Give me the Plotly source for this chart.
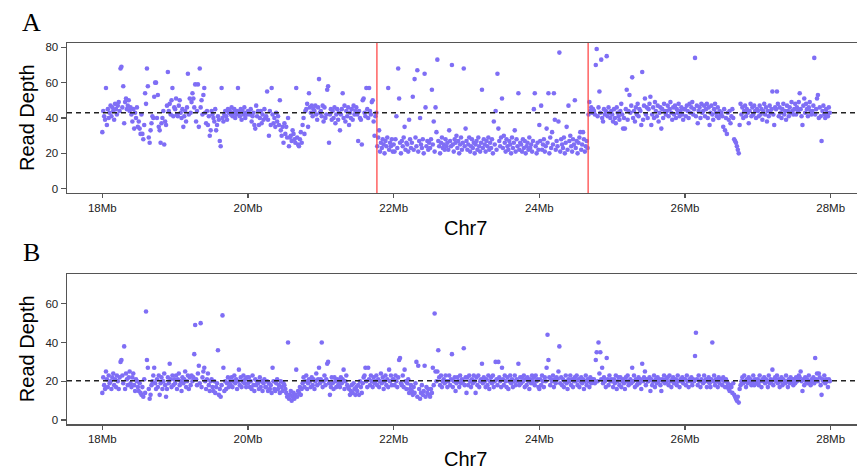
import plotly.graph_objects as go

# ---- data -------------------------------------------------------------
BIN_MB = 0.0125                      # genomic window size (Mb)
tick_vals = [18, 20, 22, 24, 26, 28]
tick_text = ["18Mb", "20Mb", "22Mb", "24Mb", "26Mb", "28Mb"]
mean_depth_a = 43.0
mean_depth_b = 20.3
breakpoints_a = [21.77, 24.67]

# Panel A read depth per 1-Mb block (80 windows each)
a_18 = [32, 44, 41, 39, 57, 36, 45, 40, 43, 47, 41, 46, 44, 39, 48, 45, 42, 47, 49, 44,
        68, 69, 46, 58, 37, 49, 51, 45, 47, 50, 44, 46, 42, 38, 45, 34, 43, 40, 46, 35,
        38, 34, 31, 42, 31, 28, 36, 54, 48, 68, 58, 29, 26, 33, 37, 41, 40, 52, 60, 60,
        40, 53, 35, 33, 26, 37, 40, 44, 25, 38, 36, 47, 66, 44, 48, 42, 50, 57, 41, 46]
a_19 = [45, 51, 42, 41, 47, 50, 43, 40, 45, 35, 41, 44, 38, 46, 65, 42, 51, 43, 49, 54,
        51, 46, 59, 38, 44, 59, 35, 68, 46, 50, 42, 53, 57, 43, 37, 44, 36, 41, 30, 33,
        44, 42, 40, 38, 45, 33, 36, 41, 39, 27, 24, 57, 40, 38, 42, 44, 41, 39, 45, 43,
        44, 42, 46, 41, 43, 45, 40, 42, 44, 57, 43, 41, 45, 39, 44, 42, 46, 40, 43, 42]
a_20 = [44, 43, 42, 45, 38, 41, 43, 36, 34, 47, 41, 44, 36, 40, 44, 37, 42, 39, 45, 40,
        41, 55, 39, 30, 44, 36, 57, 42, 37, 40, 35, 43, 38, 41, 36, 50, 33, 30, 35, 26,
        37, 31, 35, 29, 40, 24, 29, 30, 27, 33, 31, 28, 26, 57, 29, 25, 24, 28, 32, 26,
        36, 40, 31, 44, 45, 48, 35, 54, 46, 43, 47, 41, 45, 44, 47, 42, 39, 46, 62, 43]
a_21 = [44, 41, 47, 38, 46, 40, 42, 56, 58, 26, 42, 45, 39, 44, 40, 46, 37, 42, 45, 39,
        43, 33, 42, 45, 54, 40, 47, 38, 44, 41, 46, 36, 43, 40, 45, 39, 47, 42, 44, 46,
        42, 27, 44, 40, 39, 25, 50, 51, 43, 41, 57, 45, 40, 57, 44, 42, 49, 50, 38, 30,
        41, 43, 24, 29, 33, 21, 26, 23, 28, 25, 20, 27, 24, 29, 57, 22, 26, 24, 28, 21]
a_22 = [25, 21, 28, 41, 23, 68, 51, 26, 20, 27, 24, 29, 35, 22, 26, 25, 21, 39, 28, 23,
        26, 52, 22, 62, 29, 24, 67, 21, 27, 40, 25, 23, 28, 20, 65, 46, 24, 27, 22, 26,
        23, 28, 56, 25, 38, 21, 46, 32, 73, 27, 24, 20, 26, 29, 23, 25, 22, 28, 24, 26,
        22, 33, 27, 24, 70, 25, 21, 28, 26, 30, 23, 27, 20, 25, 29, 22, 26, 68, 24, 34]
a_23 = [27, 22, 25, 29, 21, 24, 28, 23, 26, 20, 25, 27, 22, 29, 24, 21, 26, 56, 23, 28,
        25, 21, 27, 24, 29, 22, 26, 23, 28, 20, 38, 25, 44, 22, 65, 34, 27, 24, 29, 51,
        23, 30, 26, 21, 28, 24, 22, 27, 25, 20, 29, 23, 26, 33, 21, 28, 24, 54, 22, 26,
        25, 21, 28, 23, 27, 20, 24, 26, 22, 29, 23, 25, 21, 27, 45, 54, 24, 20, 26, 22]
a_24 = [36, 27, 47, 22, 25, 28, 21, 24, 34, 26, 54, 20, 29, 23, 32, 25, 54, 39, 22, 27,
        24, 38, 77, 21, 28, 25, 23, 29, 20, 26, 35, 22, 47, 27, 30, 24, 21, 28, 25, 50,
        23, 27, 20, 26, 29, 32, 22, 25, 32, 28, 21, 24, 27, 23, 42, 49, 44, 46, 43, 45,
        44, 42, 70, 79, 41, 46, 55, 43, 73, 40, 38, 45, 42, 44, 75, 41, 46, 43, 40, 44]
a_25 = [42, 38, 45, 40, 37, 46, 43, 41, 39, 44, 48, 42, 34, 40, 34, 45, 56, 39, 44, 53,
        43, 47, 63, 40, 44, 38, 46, 42, 48, 41, 45, 44, 36, 66, 39, 47, 51, 42, 46, 40,
        45, 48, 52, 36, 42, 46, 40, 49, 44, 41, 47, 38, 43, 46, 34, 45, 40, 48, 44, 42,
        44, 47, 41, 45, 49, 43, 39, 46, 42, 47, 40, 45, 43, 48, 41, 44, 46, 42, 39, 45]
a_26 = [45, 41, 47, 44, 40, 48, 43, 46, 49, 42, 45, 74, 41, 47, 37, 44, 46, 40, 48, 43,
        44, 47, 41, 45, 48, 40, 46, 36, 43, 47, 42, 39, 45, 48, 43, 41, 46, 40, 44, 42,
        43, 41, 35, 45, 33, 40, 31, 43, 39, 44, 37, 41, 45, 40, 28, 27, 26, 24, 22, 20,
        36, 48, 42, 46, 40, 44, 47, 41, 45, 43, 37, 44, 48, 41, 46, 42, 47, 44, 40, 45]
a_27 = [44, 41, 47, 42, 45, 39, 44, 48, 42, 46, 38, 44, 41, 47, 43, 45, 55, 42, 36, 46,
        45, 55, 48, 41, 46, 43, 40, 45, 48, 42, 44, 39, 47, 44, 41, 46, 43, 49, 44, 42,
        45, 48, 42, 46, 44, 49, 54, 45, 41, 36, 47, 51, 43, 48, 45, 41, 46, 49, 44, 42,
        44, 47, 74, 42, 45, 51, 53, 40, 46, 41, 27, 44, 47, 42, 40, 45, 43, 41, 46, 43]

# Panel B read depth per 1-Mb block (80 windows each)
b_18 = [14, 22, 18, 16, 25, 21, 17, 23, 19, 20, 16, 22, 24, 18, 21, 17, 23, 20, 16, 22,
        30, 31, 23, 19, 38, 16, 24, 21, 18, 22, 25, 19, 17, 22, 24, 18, 15, 21, 20, 17,
        15, 19, 14, 13, 17, 12, 21, 14, 56, 31, 27, 16, 11, 13, 18, 20, 23, 27, 19, 16,
        21, 17, 23, 13, 19, 22, 16, 20, 24, 18, 12, 16, 22, 19, 29, 21, 17, 23, 18, 21]
b_19 = [19, 23, 16, 21, 24, 18, 20, 15, 22, 19, 21, 25, 17, 20, 23, 16, 22, 18, 23, 20,
        22, 34, 49, 21, 18, 24, 28, 19, 50, 17, 22, 25, 27, 20, 16, 21, 24, 18, 15, 20,
        21, 17, 15, 20, 14, 17, 19, 36, 13, 16, 12, 18, 54, 27, 15, 20, 16, 19, 22, 17,
        20, 18, 22, 17, 20, 23, 19, 21, 16, 20, 26, 18, 22, 17, 20, 23, 19, 21, 17, 22]
b_20 = [19, 22, 17, 20, 16, 23, 18, 15, 21, 18, 20, 19, 16, 22, 17, 20, 15, 19, 21, 17,
        17, 20, 15, 19, 16, 18, 14, 27, 20, 16, 15, 19, 21, 16, 18, 14, 20, 17, 15, 19,
        18, 16, 14, 12, 40, 11, 13, 15, 10, 12, 14, 11, 13, 26, 12, 15, 14, 17, 13, 16,
        19, 22, 17, 20, 23, 16, 19, 21, 20, 17, 22, 18, 21, 16, 20, 24, 18, 21, 27, 19]
b_21 = [21, 40, 17, 20, 23, 18, 21, 29, 30, 19, 13, 17, 22, 19, 16, 22, 20, 17, 21, 18,
        20, 17, 22, 19, 21, 26, 16, 20, 23, 18, 17, 16, 13, 15, 18, 14, 19, 16, 13, 17,
        15, 18, 13, 20, 17, 14, 19, 22, 23, 27, 20, 17, 27, 21, 18, 23, 20, 17, 22, 19,
        20, 23, 18, 21, 17, 20, 24, 19, 22, 16, 20, 23, 18, 21, 17, 26, 20, 23, 18, 21]
b_22 = [21, 18, 23, 20, 17, 22, 31, 32, 19, 18, 23, 17, 26, 20, 16, 19, 21, 14, 16, 18,
        15, 13, 17, 14, 19, 30, 12, 28, 16, 11, 14, 18, 13, 15, 28, 12, 17, 14, 16, 13,
        12, 16, 14, 27, 18, 55, 25, 20, 25, 36, 22, 18, 23, 17, 20, 21, 19, 23, 20, 17,
        20, 23, 18, 21, 34, 17, 20, 22, 15, 19, 22, 20, 17, 23, 19, 21, 20, 37, 18, 22]
b_23 = [14, 22, 18, 23, 20, 17, 21, 19, 23, 20, 14, 22, 18, 23, 17, 20, 21, 29, 19, 22,
        20, 17, 21, 18, 23, 16, 20, 22, 19, 23, 17, 20, 30, 21, 18, 30, 22, 20, 17, 27,
        21, 18, 23, 20, 17, 22, 16, 20, 23, 19, 21, 17, 20, 23, 18, 21, 20, 29, 18, 22,
        19, 22, 20, 23, 17, 21, 18, 22, 20, 16, 21, 19, 23, 20, 22, 18, 23, 20, 21, 17]
b_24 = [16, 21, 18, 23, 20, 17, 22, 20, 27, 44, 31, 22, 18, 21, 20, 23, 17, 21, 19, 22,
        21, 25, 38, 19, 22, 18, 21, 17, 20, 23, 19, 16, 21, 20, 23, 18, 21, 17, 20, 22,
        20, 23, 18, 21, 17, 20, 22, 19, 21, 16, 20, 23, 18, 21, 20, 17, 22, 19, 21, 20,
        21, 19, 31, 35, 20, 40, 24, 35, 21, 27, 19, 22, 20, 17, 32, 21, 18, 23, 20, 21]
b_25 = [20, 17, 21, 19, 23, 16, 20, 22, 18, 22, 17, 20, 21, 19, 16, 22, 20, 23, 18, 20,
        21, 19, 27, 20, 23, 17, 21, 18, 20, 22, 19, 21, 16, 29, 20, 22, 25, 18, 21, 20,
        20, 22, 15, 21, 18, 20, 23, 17, 21, 19, 22, 20, 21, 18, 15, 21, 20, 23, 19, 21,
        20, 22, 18, 23, 20, 17, 21, 22, 19, 20, 21, 18, 23, 20, 17, 21, 20, 22, 19, 21]
b_26 = [21, 18, 23, 20, 17, 21, 20, 22, 18, 21, 20, 33, 45, 21, 18, 23, 20, 17, 21, 20,
        19, 23, 20, 21, 17, 20, 22, 19, 17, 21, 40, 20, 23, 18, 21, 20, 17, 22, 19, 21,
        21, 18, 22, 20, 17, 21, 17, 19, 16, 15, 18, 17, 14, 19, 13, 12, 11, 10, 12, 9,
        16, 18, 20, 22, 19, 23, 20, 17, 21, 19, 22, 20, 21, 18, 20, 23, 18, 21, 20, 19]
b_27 = [21, 18, 23, 20, 17, 21, 20, 22, 19, 21, 20, 17, 23, 19, 21, 20, 26, 18, 21, 22,
        20, 23, 19, 21, 17, 20, 22, 18, 21, 20, 19, 23, 20, 17, 21, 19, 22, 20, 21, 18,
        21, 19, 22, 20, 21, 23, 22, 25, 20, 15, 21, 18, 22, 20, 21, 19, 23, 20, 18, 21,
        20, 22, 19, 32, 21, 24, 20, 24, 22, 18, 13, 21, 20, 23, 19, 21, 20, 17, 21, 20]

blocks_a = [(18, a_18), (19, a_19), (20, a_20), (21, a_21), (22, a_22),
            (23, a_23), (24, a_24), (25, a_25), (26, a_26), (27, a_27)]
blocks_b = [(18, b_18), (19, b_19), (20, b_20), (21, b_21), (22, b_22),
            (23, b_23), (24, b_24), (25, b_25), (26, b_26), (27, b_27)]


def flatten(blocks):
    xs, ys = [], []
    for start, vals in blocks:
        for i, v in enumerate(vals):
            xs.append(start + i * BIN_MB)
            ys.append(v)
    return xs, ys


xa, ya = flatten(blocks_a)
xb, yb = flatten(blocks_b)

# ---- figure -----------------------------------------------------------
POINT = "#7f6ef5"
AXC = "#555555"
SANS = "Liberation Sans, Arial, sans-serif"
SERIF = "Liberation Serif, Times New Roman, serif"

FIG_W = 870                     # plot area runs past the 857 px window edge
PLOT_W = FIG_W - 67

fig = go.Figure()
fig.add_trace(go.Scatter(x=xa, y=ya, mode="markers", xaxis="x", yaxis="y",
                         marker=dict(size=4.6, color=POINT), showlegend=False,
                         hoverinfo="skip"))
fig.add_trace(go.Scatter(x=xb, y=yb, mode="markers", xaxis="x2", yaxis="y2",
                         marker=dict(size=4.6, color=POINT), showlegend=False,
                         hoverinfo="skip"))

xcommon = dict(range=[17.515, 28.54], tickvals=tick_vals, ticktext=tick_text,
               showline=True, linecolor=AXC, linewidth=1.5, mirror=True,
               ticks="outside", ticklen=4, tickwidth=1.2, tickcolor=AXC,
               showgrid=False, zeroline=False,
               tickfont=dict(family=SANS, size=11.5, color="#222"))
ycommon = dict(showline=True, linecolor=AXC, linewidth=1.5,
               ticks="outside", ticklen=5, tickwidth=1.2, tickcolor=AXC,
               showgrid=False, zeroline=False,
               tickfont=dict(family=SANS, size=11.5, color="#222"))

shapes = [
    dict(type="line", xref="x domain", x0=0, x1=1, yref="y", y0=mean_depth_a,
         y1=mean_depth_a, line=dict(color="#222", width=1.5, dash="5px,4px"),
         layer="above"),
    dict(type="line", xref="x2 domain", x0=0, x1=1, yref="y2", y0=mean_depth_b,
         y1=mean_depth_b, line=dict(color="#222", width=1.5, dash="5px,4px"),
         layer="above"),
]
for bp in breakpoints_a:
    shapes.append(dict(type="line", xref="x", x0=bp, x1=bp, yref="y domain",
                       y0=0, y1=1, line=dict(color="#ff4a4a", width=1.3),
                       layer="above"))

ax_title_x = (27 - 67) / PLOT_W
label_x = (31 - 67) / PLOT_W
chr_x = (465 - 67) / PLOT_W

annotations = [
    dict(text="A", xref="paper", yref="paper", x=label_x, y=1.0, yshift=21,
         showarrow=False, font=dict(family=SERIF, size=26, color="#000"),
         xanchor="center", yanchor="middle"),
    dict(text="B", xref="paper", yref="paper", x=label_x, y=0.3929, yshift=22,
         showarrow=False, font=dict(family=SERIF, size=26, color="#000"),
         xanchor="center", yanchor="middle"),
    dict(text="Read Depth", xref="paper", yref="paper", x=ax_title_x,
         y=(1 + 0.6063) / 2, textangle=-90, showarrow=False,
         font=dict(family=SANS, size=20, color="#000"),
         xanchor="center", yanchor="middle"),
    dict(text="Read Depth", xref="paper", yref="paper", x=ax_title_x,
         y=0.3929 / 2, textangle=-90, showarrow=False,
         font=dict(family=SANS, size=20, color="#000"),
         xanchor="center", yanchor="middle"),
    dict(text="Chr7", xref="paper", yref="paper", x=chr_x, y=0.6063, yshift=-35,
         showarrow=False, font=dict(family=SANS, size=20, color="#000"),
         xanchor="center", yanchor="middle"),
    dict(text="Chr7", xref="paper", yref="paper", x=chr_x, y=0, yshift=-35,
         showarrow=False, font=dict(family=SANS, size=20, color="#000"),
         xanchor="center", yanchor="middle"),
]

fig.update_layout(
    width=FIG_W, height=470,
    margin=dict(l=67, r=0, t=43, b=46),
    paper_bgcolor="white", plot_bgcolor="white",
    xaxis=dict(domain=[0, 1], anchor="y", **xcommon),
    xaxis2=dict(domain=[0, 1], anchor="y2", **xcommon),
    yaxis=dict(domain=[0.6063, 1], anchor="x", range=[-2.43, 82.43],
               tickvals=[0, 20, 40, 60, 80], **ycommon),
    yaxis2=dict(domain=[0, 0.3929], anchor="x2", range=[-2.06, 75.2],
                tickvals=[0, 20, 40, 60], **ycommon),
    shapes=shapes,
    annotations=annotations,
)

fig.write_html(
    "out.html",
    config={"displayModeBar": False, "staticPlot": True},
    post_script="document.body.style.margin='0';"
                "document.body.style.overflow='hidden';"
                "document.documentElement.style.overflow='hidden';",
)
